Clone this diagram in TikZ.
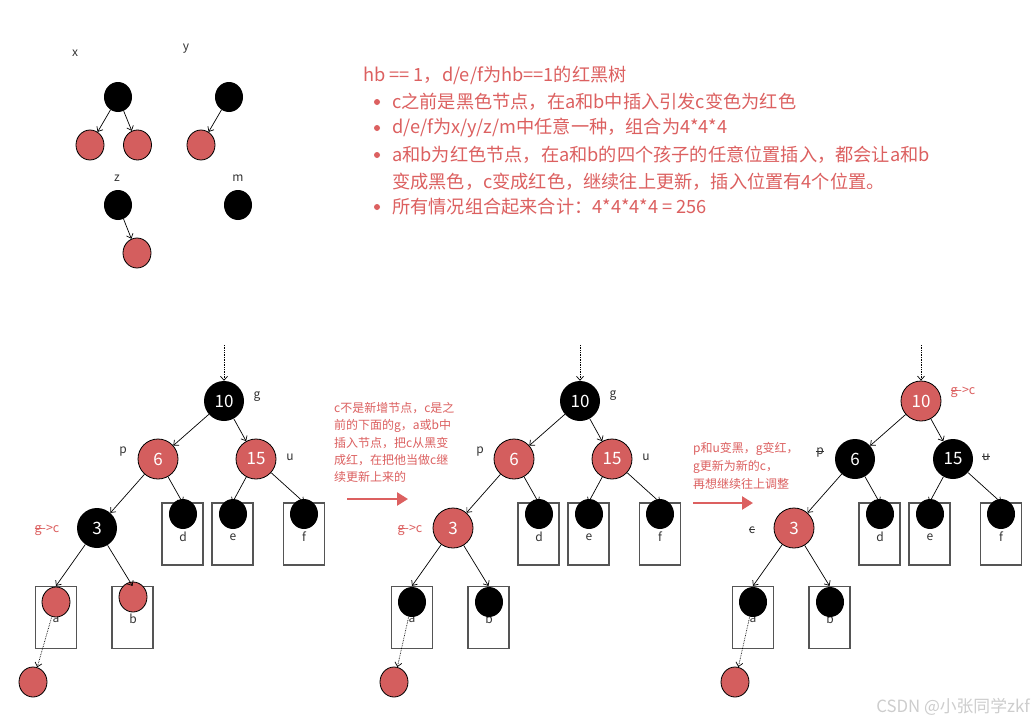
\documentclass[tikz,border=0pt]{standalone}
\usepackage{fontspec}
\setmainfont{Noto Sans CJK SC}
\usetikzlibrary{arrows.meta,shapes.geometric}
\newcommand\strk[1]{\setbox0\hbox{#1}\rlap{\copy0}\rule[0.28em]{\wd0}{0.07em}}
\definecolor{rbred}{RGB}{212,94,94}
\definecolor{txtred}{RGB}{220,96,96}
\definecolor{lbl}{RGB}{51,51,51}
\definecolor{boxgray}{RGB}{85,85,85}
\definecolor{wm}{RGB}{205,205,205}
\tikzset{
  big/.style={circle, minimum size=40pt, inner sep=0pt, font=\fontsize{17}{17}\selectfont, text=white},
  bigb/.style={big, fill=black},
  bigr/.style={big, fill=rbred, draw=black, line width=0.8pt},
  sm/.style={ellipse, minimum width=28pt, minimum height=30pt, inner sep=0pt},
  smb/.style={sm, fill=black},
  smr/.style={sm, fill=rbred, draw=black, line width=0.8pt},
  lbox/.style={draw=boxgray, line width=1.2pt, minimum width=41pt, minimum height=62pt, inner sep=0pt},
  lab/.style={text=lbl, inner sep=0pt, font=\fontsize{12}{12}\selectfont},
  redlab/.style={text=txtred, inner sep=0pt, font=\fontsize{12.5}{12.5}\selectfont},
  note/.style={text=txtred, inner sep=0pt, anchor=west, font=\fontsize{12}{12}\selectfont},
  main/.style={text=txtred, inner sep=0pt, anchor=west, font=\fontsize{18.2}{18.2}\selectfont},
  bullet/.style={circle, fill=txtred, minimum size=6pt, inner sep=0pt},
  edge/.style={-{Straight Barb[length=4pt,width=7pt]}, line width=0.7pt},
  dots/.style={edge, densely dotted},
  bigarrow/.style={-{Triangle[length=11pt,width=13pt]}, line width=2.5pt, draw=txtred},
}
% #1 prefix, #2 shift, #3 root, #4 p/u, #5 c, #6 a/b leaves, #7 bottom x (relative), #8 b leaf y
\newcommand\rbtree[8]{%
\begin{scope}[xshift=#2]
  \coordinate (#1top) at (224,345);
  \node[#3] (#1g) at (224,401) {10};
  \node[#4] (#1p) at (158,459) {6};
  \node[#4] (#1u) at (256,459) {15};
  \node[#5] (#1c) at (97,528) {3};
  \node[lbox] (#1bd) at (182.5,534) {};
  \node[lbox] (#1be) at (232.5,534) {};
  \node[lbox] (#1bf) at (304,534) {};
  \node[lbox] (#1ba) at (56,617.5) {};
  \node[lbox] (#1bb) at (132.5,617.5) {};
  \node[lab] (#1td) at (183,537) {d};
  \node[lab] (#1te) at (233,537) {e};
  \node[lab] (#1tf) at (304,537) {f};
  \node[lab] (#1ta) at (56,619) {a};
  \node[lab] (#1tb) at (133,619) {b};
  \node[smb] (#1ld) at (183,514) {};
  \node[smb] (#1le) at (233,514) {};
  \node[smb] (#1lf) at (304,514) {};
  \node[#6] (#1la) at (56,602) {};
  \node[#6] (#1lb) at (133,#8) {};
  \node[smr] (#1bot) at (#7,682) {};
  \draw[dots] (#1top) -- (#1g);
  \draw[edge] (#1g) -- (#1p);
  \draw[edge] (#1g) -- (#1u);
  \draw[edge] (#1p) -- (#1c);
  \draw[edge] (#1p) -- (#1bd.north);
  \draw[edge] (#1u) -- (#1be.north);
  \draw[edge] (#1u) -- (#1bf.north);
  \draw[edge] (#1c) -- (#1ba.north);
  \draw[edge] (#1c) -- (#1bb.north);
  \draw[dots] (#1la) -- (#1bot);
\end{scope}}
\begin{document}
\begin{tikzpicture}[x=1pt,y=-1pt]
\useasboundingbox[fill=white] (0,0) rectangle (1033,726);
% small example trees
\node[lab] (lx) at (75,53) {x};
\node[smb] (x0) at (118,97) {};
\node[smr] (x1) at (90,145) {};
\node[smr] (x2) at (137.5,145) {};
\draw[edge] (x0) -- (x1);
\draw[edge] (x0) -- (x2);
\node[lab] (ly) at (186,49) {y};
\node[smb] (y0) at (229,97) {};
\node[smr] (y1) at (201,145) {};
\draw[edge] (y0) -- (y1);
\node[lab] (lz) at (117,178) {z};
\node[smb] (z0) at (118,205) {};
\node[smr] (z1) at (137,253) {};
\draw[edge] (z0) -- (z1);
\node[lab] (lm) at (238,178) {m};
\node[smb] (m0) at (238,205) {};
% main text
\node[main] (t0) at (363,75) {hb == 1，d/e/f为hb==1的红黑树};
\node[bullet] (b1) at (377,102) {};
\node[main] (t1) at (392,102) {c之前是黑色节点，在a和b中插入引发c变色为红色};
\node[bullet] (b2) at (377,128) {};
\node[main] (t2) at (392,128) {d/e/f为x/y/z/m中任意一种，组合为4*4*4};
\node[bullet] (b3) at (377,155) {};
\node[main] (t3) at (392,155) {a和b为红色节点，在a和b的四个孩子的任意位置插入，都会让a和b};
\node[main] (t3b) at (392,182) {变成黑色，c变成红色，继续往上更新，插入位置有4个位置。};
\node[bullet] (b4) at (377,207) {};
\node[main] (t4) at (392,207) {所有情况组合起来合计：4*4*4*4 = 256};
% trees
\rbtree{A}{0pt}{bigb}{bigr}{bigb}{smr}{33}{597}
\rbtree{B}{356pt}{bigb}{bigr}{bigr}{smb}{38}{602}
\rbtree{C}{697pt}{bigr}{bigb}{bigr}{smb}{38}{602}
% labels tree 1
\node[lab] (Alg) at (257,397) {g};
\node[lab] (Alp) at (123,452) {p};
\node[lab] (Alu) at (290,457) {u};
\node[redlab] (Alc) at (47,530) {\strk{g}->c};
% labels tree 2
\node[lab] (Blg) at (613,396) {g};
\node[lab] (Blp) at (480,452) {p};
\node[lab] (Blu) at (646,457) {u};
\node[redlab] (Blc) at (410,530) {\strk{g}->c};
% labels tree 3
\node[redlab] (Clg) at (963,392) {\strk{g}->c};
\node[lab] (Clp) at (820,453) {\strk{p}};
\node[lab] (Clu) at (986,457) {\strk{u}};
\node[lab] (Clc) at (752,530) {\strk{c}};
% note 1
\node[note] (n1a) at (334,408) {c不是新增节点，c是之};
\node[note] (n1b) at (334,426) {前的下面的g，a或b中};
\node[note] (n1c) at (334,443) {插入节点，把c从黑变};
\node[note] (n1d) at (334,460) {成红，在把他当做c继};
\node[note] (n1e) at (334,477) {续更新上来的};
\coordinate (r1s) at (347,499);
\coordinate (r1e) at (408,499);
\draw[bigarrow] (r1s) -- (r1e);
% note 2
\node[note] (n2a) at (693,449) {p和u变黑，g变红，};
\node[note] (n2b) at (693,467) {g更新为新的c，};
\node[note] (n2c) at (693,484) {再想继续往上调整};
\coordinate (r2s) at (693,503);
\coordinate (r2e) at (753,503);
\draw[bigarrow] (r2s) -- (r2e);
% watermark
\node[text=wm, inner sep=0pt, anchor=east, font=\fontsize{16.8}{16.8}\selectfont] (wmk) at (1030,707) {CSDN @小张同学zkf};
\end{tikzpicture}
\end{document}
